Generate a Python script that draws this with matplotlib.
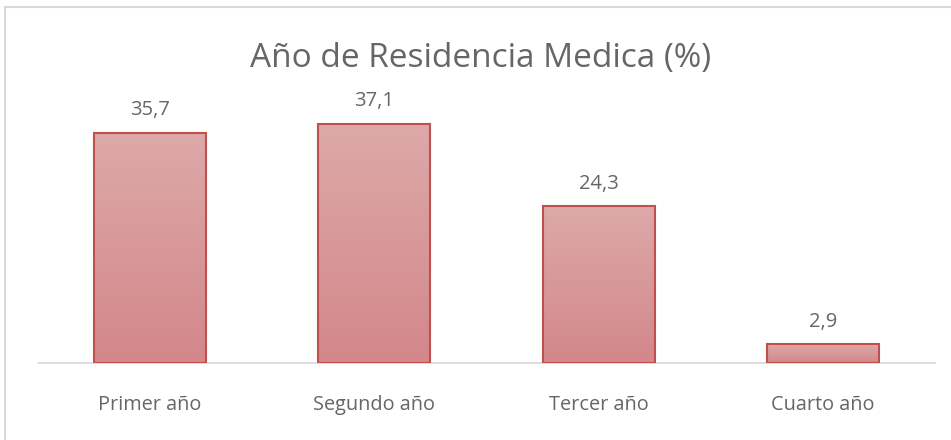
import matplotlib.pyplot as plt
import numpy as np
from matplotlib.colors import LinearSegmentedColormap
from matplotlib.patches import Rectangle

categories = ["Primer año", "Segundo año", "Tercer año", "Cuarto año"]
values = [35.7, 37.1, 24.3, 2.9]
labels = ["35,7", "37,1", "24,3", "2,9"]

plt.rcParams['font.family'] = ['Open Sans', 'DejaVu Sans']
gray = "#666666"

fig = plt.figure(figsize=(9.51, 4.4), dpi=100)
# outer chart frame
fig.patches.append(Rectangle((5 / 951, -0.1), 1.1, 1 - 7 / 440 + 0.1, transform=fig.transFigure,
                             fill=False, edgecolor="#d9d9d9", linewidth=1.5))
ax = fig.add_axes([38 / 951, (440 - 363) / 440, 897 / 951, (363 - 105) / 440])

cmap = LinearSegmentedColormap.from_list("grad", ["#d3878a", "#dda9a9"])
grad = np.linspace(0, 1, 256).reshape(-1, 1)
x = np.arange(len(categories))
width = 0.5
bars = ax.bar(x, values, width=width, color="none", edgecolor="#c0504d", linewidth=1.5, zorder=3)
for b in bars:
    im = ax.imshow(grad, cmap=cmap, aspect="auto", origin="lower",
                   extent=[b.get_x(), b.get_x() + b.get_width(), 0, b.get_height()], zorder=2)
    im.set_clip_path(b)

for xi, v, lab in zip(x, values, labels):
    ax.annotate(lab, (xi, v), xytext=(0, 9), textcoords="offset points", ha="center", va="bottom",
                fontsize=14.5, color=gray)

ax.set_xlim(-0.5, 3.5)
ax.set_ylim(0, 40)
ax.set_xticks(x)
ax.set_xticklabels(categories, fontsize=14.3, color=gray)
ax.tick_params(axis="x", length=0, pad=23)
ax.set_yticks([])
for s in ["top", "right", "left"]:
    ax.spines[s].set_visible(False)
ax.spines["bottom"].set_color("#d9d9d9")
ax.spines["bottom"].set_linewidth(1.2)

fig.text(0.505, (440 - 59) / 440, "Año de Residencia Medica (%)", ha="center", va="center",
         fontsize=24, color=gray)

fig.savefig("out.png", dpi=100)
